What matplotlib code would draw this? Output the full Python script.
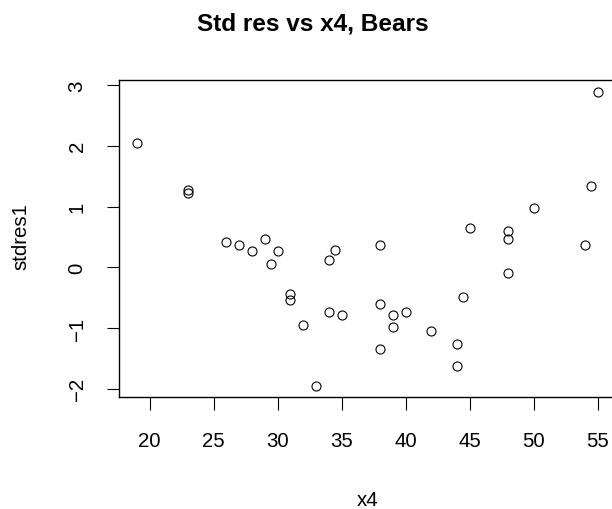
import numpy as np
import matplotlib.pyplot as plt

# data
x4 = [19, 23, 23, 26, 27, 28, 29, 30, 29.5, 34.5, 34,
      55, 54.5, 50, 45, 48, 48, 38, 54,
      31, 31, 34, 35, 32, 33,
      48, 44.5, 38, 39, 40, 39, 42, 38, 44, 44]
stdres1 = [2.04, 1.28, 1.23, 0.41, 0.37, 0.26, 0.46, 0.26, 0.05, 0.29, 0.12,
           2.89, 1.34, 0.97, 0.65, 0.60, 0.46, 0.36, 0.36,
           -0.44, -0.54, -0.74, -0.78, -0.95, -1.95,
           -0.10, -0.49, -0.61, -0.78, -0.735, -0.98, -1.05, -1.34, -1.27, -1.62]
xticks = [20, 25, 30, 35, 40, 45, 50, 55]
yticks = [-2, -1, 0, 1, 2, 3]

plt.rcParams['font.family'] = ['Liberation Sans', 'DejaVu Sans']

W, H = 612, 510
fig = plt.figure(figsize=(W / 100, H / 100), dpi=100)
# axes box in pixels: left 118.5, right 616, top 81, bottom 398.4
l, r, t, b = 118.5, 616, 81, 398.4
ax = fig.add_axes([l / W, (H - b) / H, (r - l) / W, (b - t) / H])

ax.plot(x4, stdres1, 'o', mfc='none', mec='black', ms=6.5, mew=0.8)

# R-style 4% padding
xr = max(x4) - min(x4)
yr = max(stdres1) - min(stdres1)
ax.set_xlim(min(x4) - 0.04 * xr, max(x4) + 0.04 * xr)
ax.set_ylim(min(stdres1) - 0.04 * yr, max(stdres1) + 0.04 * yr)

ax.set_xticks(xticks)
ax.set_yticks(yticks)
ax.tick_params(axis='both', direction='out', length=9, width=0.8,
               labelsize=14.7, colors='black')
ax.tick_params(axis='x', pad=15)
ax.tick_params(axis='y', pad=14)
for lab in ax.get_yticklabels():
    lab.set_rotation(90)
    lab.set_va('center')
for s in ax.spines.values():
    s.set_linewidth(1.0)

ax.set_xlabel('x4', fontsize=14.7)
ax.xaxis.set_label_coords(0.5, -0.322)
ax.xaxis.label.set_va('center')
ax.set_ylabel('stdres1', fontsize=14.7)
ax.yaxis.set_label_coords(-0.196, 0.51)
ax.yaxis.label.set_va('center')

fig.text(313 / W, 1 - 24 / H, 'Std res vs x4, Bears', ha='center', va='center',
         fontsize=17.6, fontweight='bold')

fig.savefig('out.png', dpi=100)
